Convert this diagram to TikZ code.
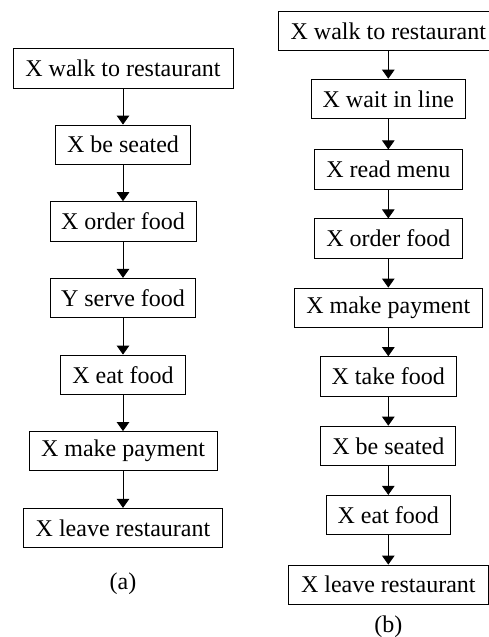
\documentclass[tikz,border=0pt]{standalone}
\usepackage{fontspec}
\setmainfont{Liberation Serif}
\usetikzlibrary{arrows.meta}
\begin{document}
\begin{tikzpicture}[x=1pt,y=-1pt,
  stepbox/.style={draw, line width=0.9pt, inner sep=0pt, minimum height=39.3pt,
    font=\fontsize{24}{28}\selectfont},
  flow/.style={line width=0.9pt, -{Triangle[width=12.5pt,length=9pt]}},
  sublabel/.style={font=\fontsize{24}{28}\selectfont, inner sep=0pt}]
\useasboundingbox (0,0) rectangle (489,637);
% (a)
\node[stepbox, minimum width=220pt]   (a1) at (123,68.3)  {X walk to restaurant};
\node[stepbox, minimum width=135.7pt] (a2) at (123,144.7) {X be seated};
\node[stepbox, minimum width=146pt]   (a3) at (123,221.3) {X order food};
\node[stepbox, minimum width=145.7pt] (a4) at (123,298)   {Y serve food};
\node[stepbox, minimum width=124.7pt] (a5) at (123,374.7) {X eat food};
\node[stepbox, minimum width=188pt]   (a6) at (123,451.2) {X make payment};
\node[stepbox, minimum width=199.4pt] (a7) at (123,528)   {X leave restaurant};
\node[sublabel] (la) at (123,583.3) {(a)};
\foreach \i/\j in {a1/a2,a2/a3,a3/a4,a4/a5,a5/a6,a6/a7}
  \draw[flow] (\i) -- (\j);
% (b)
\node[stepbox, minimum width=220pt]   (b1) at (388.3,30.8)  {X walk to restaurant};
\node[stepbox, minimum width=153.3pt] (b2) at (388.3,98.8)  {X wait in line};
\node[stepbox, minimum width=147.3pt] (b3) at (388.3,169.5) {X read menu};
\node[stepbox, minimum width=147.3pt] (b4) at (388.3,238.5) {X order food};
\node[stepbox, minimum width=188.4pt] (b5) at (388.3,307.7) {X make payment};
\node[stepbox, minimum width=136.4pt] (b6) at (388.3,376.3) {X take food};
\node[stepbox, minimum width=135pt]   (b7) at (388.3,445.8) {X be seated};
\node[stepbox, minimum width=124pt]   (b8) at (388.3,515)   {X eat food};
\node[stepbox, minimum width=199.4pt] (b9) at (388.3,584.7) {X leave restaurant};
\node[sublabel] (lb) at (388.3,626.7) {(b)};
\foreach \i/\j in {b1/b2,b2/b3,b3/b4,b4/b5,b5/b6,b6/b7,b7/b8,b8/b9}
  \draw[flow] (\i) -- (\j);
\end{tikzpicture}
\end{document}
